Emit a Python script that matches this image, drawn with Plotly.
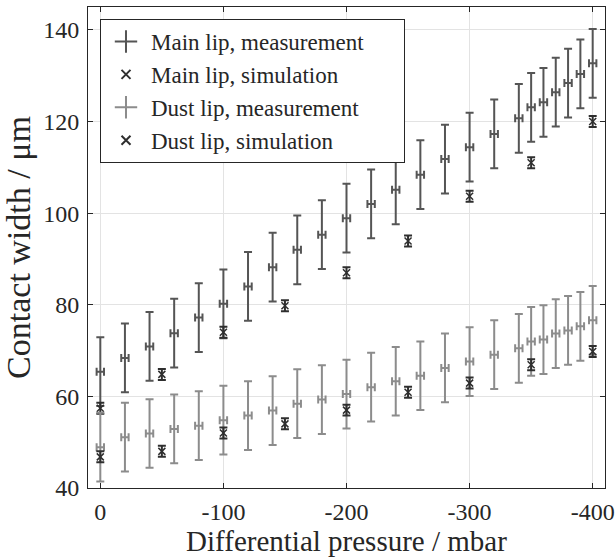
import plotly.graph_objects as go

# ---- data ----
meas_p = [0, -20, -40, -60, -80, -100, -120, -140, -160, -180, -200, -220, -240,
          -260, -280, -300, -320, -340, -350, -360, -370, -380, -390, -400]
main_meas = [65.4, 68.4, 70.9, 73.8, 77.2, 80.2, 84.0, 88.2, 92.0, 95.3, 98.9, 102.0,
             105.1, 108.4, 111.8, 114.4, 117.3, 120.7, 123.1, 124.2, 126.4, 128.4, 130.4, 132.7]
dust_meas = [48.9, 51.1, 51.9, 52.9, 53.6, 54.8, 55.8, 56.9, 58.4, 59.3, 60.5, 62.0,
             63.3, 64.5, 66.2, 67.6, 69.1, 70.5, 72.0, 72.4, 73.7, 74.4, 75.3, 76.6]
meas_err_y = [7.5] * len(meas_p)
meas_err_x = [3] * len(meas_p)

sim_p = [0, -50, -100, -150, -200, -250, -300, -350, -400]
main_sim = [57.4, 64.8, 74.0, 79.8, 87.0, 93.9, 103.7, 111.0, 120.0]
dust_sim = [46.8, 48.0, 52.0, 54.0, 57.0, 60.9, 62.9, 66.9, 69.8]
sim_err = [1.2] * len(sim_p)

x_ticks = [0, -100, -200, -300, -400]
y_ticks = [40, 60, 80, 100, 120, 140]

names = ["Main lip, measurement", "Main lip, simulation",
         "Dust lip, measurement", "Dust lip, simulation"]

FONT = "Liberation Serif"
C_TEXT = "#262626"
C_MAIN = "#555555"
C_DUST = "#8c8c8c"
C_SIM = "#2e2e2e"
PAD = "\u00a0" * 6  # widens the legend box to the reference width

fig = go.Figure()

def meas_trace(y, color):
    return go.Scatter(
        x=meas_p, y=y, mode="markers", showlegend=False, hoverinfo="skip",
        marker=dict(size=0, color=color, opacity=0),
        error_y=dict(type="data", array=meas_err_y, color=color, thickness=2, width=4),
        error_x=dict(type="data", array=meas_err_x, color=color, thickness=2, width=4),
    )

def sim_trace(y):
    return go.Scatter(
        x=sim_p, y=y, mode="markers", showlegend=False,
        marker=dict(symbol="x-thin-open", size=7, color=C_SIM,
                    line=dict(color=C_SIM, width=1.5)),
        error_y=dict(type="data", array=sim_err, color=C_SIM, thickness=2, width=4),
    )

def legend_entry(name, symbol, size, color):
    return go.Scatter(
        x=[None], y=[None], mode="markers", name=name,
        marker=dict(symbol=symbol, size=size, color=color,
                    line=dict(color=color, width=2)),
    )

fig.add_trace(meas_trace(main_meas, C_MAIN))
fig.add_trace(sim_trace(main_sim))
fig.add_trace(meas_trace(dust_meas, C_DUST))
fig.add_trace(sim_trace(dust_sim))

fig.add_trace(legend_entry(names[0] + PAD, "cross-thin-open", 16, C_MAIN))
fig.add_trace(legend_entry(names[1], "x-thin-open", 9, C_SIM))
fig.add_trace(legend_entry(names[2], "cross-thin-open", 16, C_DUST))
fig.add_trace(legend_entry(names[3], "x-thin-open", 9, C_SIM))

axis_common = dict(
    showgrid=True, gridcolor="#e3e3e3", gridwidth=1,
    showline=True, linecolor=C_TEXT, linewidth=1, mirror="ticks",
    ticks="inside", ticklen=5, tickcolor=C_TEXT, tickwidth=1,
    zeroline=False, automargin=False,
    tickfont=dict(family=FONT, size=24, color=C_TEXT),
)

fig.update_xaxes(
    range=[10, -410], tickvals=x_ticks, ticktext=[str(v) for v in x_ticks],
    ticklabelstandoff=2,
    title=dict(text="Differential pressure / mbar",
               font=dict(family=FONT, size=29, color=C_TEXT), standoff=2),
    **axis_common,
)
fig.update_yaxes(
    range=[40, 145], tickvals=y_ticks, ticklabelstandoff=3,
    title=dict(text="Contact width / μm",
               font=dict(family=FONT, size=34, color=C_TEXT), standoff=10),
    **axis_common,
)

fig.update_layout(
    width=615, height=560,
    margin=dict(l=88, r=10, t=7, b=72),
    paper_bgcolor="white", plot_bgcolor="white",
    font=dict(family=FONT, color=C_TEXT),
    legend=dict(
        x=0.0232, y=0.975, xanchor="left", yanchor="top",
        bgcolor="white", bordercolor=C_TEXT, borderwidth=1,
        font=dict(family=FONT, size=23, color=C_TEXT),
        tracegroupgap=0, itemwidth=40,
    ),
)

fig.write_html("out.html", config={"displayModeBar": False},
               post_script="document.body.style.margin='0';")
